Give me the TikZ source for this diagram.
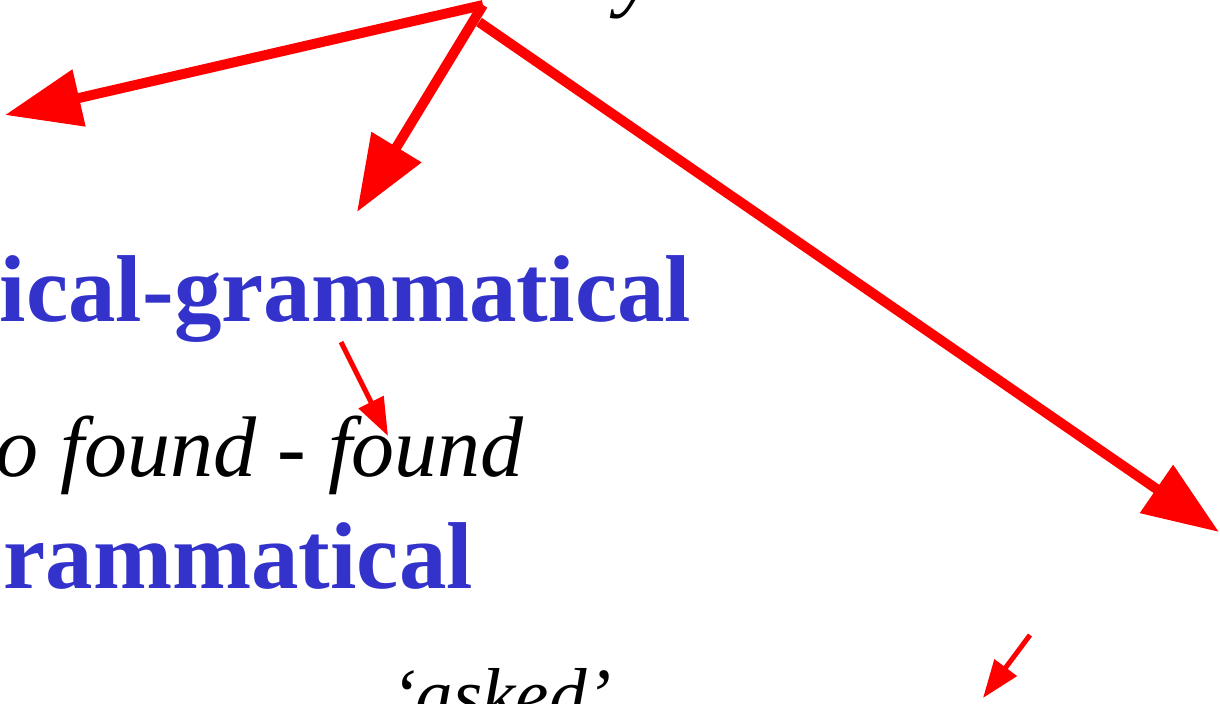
\documentclass[tikz,border=0pt]{standalone}
\usepackage{fontspec}
\setmainfont{Liberation Serif}
\usetikzlibrary{arrows.meta}
\definecolor{r}{HTML}{FF0000}
\definecolor{b}{HTML}{3333CC}

\begin{document}
\begin{tikzpicture}[x=0.5pt,y=-0.5pt,inner sep=0pt,outer sep=0pt,
  term/.style={font=\fontsize{47.5pt}{50pt}\selectfont\bfseries,text=b},
  word/.style={font=\fontsize{43pt}{46pt}\selectfont\itshape,text=black},
  big/.style={draw=r,line width=5pt,-{Triangle[length=38pt,width=28pt]}},
  small/.style={draw=r,line width=2.5pt,-{Triangle[length=19pt,width=13.5pt]}}]
  \useasboundingbox (0,0) rectangle (1220,703);
  \clip (0,0) rectangle (1220,703);
  % texts
  \node[word,anchor=base west] (top) at (617,0) {y};
  \node[term,anchor=base east] (lexgram) at (691,321) {ical-grammatical};
  \node[word,anchor=base west] (found) at (-4,476) {o found - found};
  \node[term,anchor=base east] (gram) at (473,588) {rammatical};
  \node[word,anchor=base west,font=\fontsize{37.5pt}{40pt}\selectfont\itshape] (asked) at (391,720) {‘asked’};
  % arrow ends
  \coordinate (hub) at (483,5);
  \coordinate (hub2) at (479,22);
  \coordinate (e1) at (5,115);
  \coordinate (e2) at (357,212);
  \coordinate (e3) at (1219,532);
  \coordinate (s4) at (341,342);
  \coordinate (e4) at (388,436);
  \coordinate (s5) at (1030,635);
  \coordinate (e5) at (983,698);
  \draw[big] (hub) -- (e1);
  \draw[big] (hub) -- (e2);
  \draw[big] (hub2) -- (e3);
  \draw[small] (s4) -- (e4);
  \draw[small] (s5) -- (e5);
\end{tikzpicture}
\end{document}
